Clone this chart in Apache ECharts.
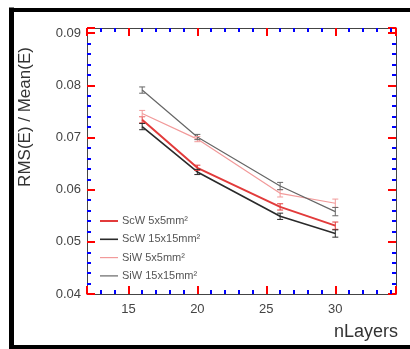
<!DOCTYPE html>
<html><head><meta charset="utf-8">
<script src="https://cdn.jsdelivr.net/npm/echarts@6/dist/echarts.min.js"></script>
<style>html,body{margin:0;padding:0;background:#fff;overflow:hidden}#c{width:410px;height:349px}</style>
</head><body><div id="c"></div>
<script>
const nLayers = [16, 20, 26, 30];
const seriesNames = ['ScW 5x5mm²', 'ScW 15x15mm²', 'SiW 5x5mm²', 'SiW 15x15mm²'];
const scw5 = [0.0734, 0.0642, 0.0567, 0.0531];
const scw15 = [0.0721, 0.0634, 0.0549, 0.0516];
const siw5 = [0.0746, 0.0697, 0.0593, 0.0574];
const siw15 = [0.0791, 0.0701, 0.0607, 0.0558];
const scw5Err = [0.0006, 0.0005, 0.0006, 0.0007];
const scw15Err = [0.0006, 0.0005, 0.0006, 0.0007];
const siw5Err = [0.0006, 0.0005, 0.0007, 0.0008];
const siw15Err = [0.0006, 0.0005, 0.0007, 0.0008];
const xTicks = [15, 20, 25, 30];
const yTicks = [0.04, 0.05, 0.06, 0.07, 0.08, 0.09];

const colors = ['#e23b3b', '#2a2a2a', '#f29a9a', '#666666'];
const widths = [2, 1.6, 1.2, 1.2];
const values = [scw5, scw15, siw5, siw15];
const errs = [scw5Err, scw15Err, siw5Err, siw15Err];

const chart = echarts.init(document.getElementById('c'), null, {renderer: 'canvas'});
function axisCommon() {
  return {
    axisLine: {show: true, onZero: false, lineStyle: {color: '#444', width: 1}},
    axisTick: {show: true, inside: true, length: 8, lineStyle: {color: '#ff0000', width: 2}},
    minorTick: {show: true, splitNumber: 5, length: 4, lineStyle: {color: '#0000ff', width: 2}},
    splitLine: {show: false}, minorSplitLine: {show: false}
  };
}
const series = [];
values.forEach((vals, i) => {
  series.push({
    name: seriesNames[i], type: 'line', xAxisIndex: 0, yAxisIndex: 0,
    data: nLayers.map((x, k) => [x, vals[k]]),
    symbol: 'none', lineStyle: {color: colors[i], width: widths[i]},
    itemStyle: {color: colors[i]}, z: 3
  });
  const errData = [];
  nLayers.forEach((x, k) => {
    errData.push([x, vals[k] - errs[i][k]]);
    errData.push([x, vals[k] + errs[i][k]]);
    errData.push([x, '-']);
  });
  series.push({
    name: seriesNames[i] + ' err', type: 'line', xAxisIndex: 0, yAxisIndex: 0,
    data: errData, connectNulls: false,
    symbol: 'rect', symbolSize: [6, 1], showSymbol: true, showAllSymbol: true,
    lineStyle: {color: colors[i], width: 1}, itemStyle: {color: colors[i]}, z: 4
  });
});

const legendItems = [];
seriesNames.forEach((n, i) => {
  const y = 221 + i * 18.3;
  legendItems.push({type: 'line', shape: {x1: 100, y1: y, x2: 118, y2: y}, style: {stroke: colors[i], lineWidth: widths[i]}});
  legendItems.push({type: 'text', x: 122, y: y, style: {text: n, fontSize: 11, fill: '#555', fontFamily: 'Liberation Sans', align: 'left', verticalAlign: 'middle'}});
});

chart.setOption({
  animation: false,
  grid: {left: 87, top: 28, right: 14, bottom: 55},
  xAxis: [
    Object.assign({type: 'value', position: 'bottom', min: 12, max: 34.4, splitNumber: 5,
      axisLabel: {show: true, showMinLabel: false, showMaxLabel: false, color: '#444', fontSize: 13, fontFamily: 'Liberation Sans', margin: 9,
        formatter: v => xTicks.includes(v) ? String(v) : ''}}, axisCommon()),
    Object.assign({type: 'value', position: 'top', min: 12, max: 34.4, splitNumber: 5, axisLabel: {show: false}}, axisCommon())
  ],
  yAxis: [
    Object.assign({type: 'value', position: 'left', min: 0.04, max: 0.091, interval: 0.01,
      axisLabel: {show: true, showMaxLabel: false, color: '#444', fontSize: 13, fontFamily: 'Liberation Sans', margin: 6,
        formatter: v => yTicks.some(t => Math.abs(t - v) < 1e-9) ? v.toFixed(2) : ''}}, axisCommon()),
    Object.assign({type: 'value', position: 'right', min: 0.04, max: 0.091, interval: 0.01, axisLabel: {show: false}}, axisCommon())
  ],
  series: series,
  graphic: legendItems.concat([
    {type: 'line', shape: {x1: 11.5, y1: 7.5, x2: 11.5, y2: 349}, style: {stroke: '#000', lineWidth: 5}, z: 10},
    {type: 'line', shape: {x1: 9, y1: 10, x2: 410, y2: 10}, style: {stroke: '#000', lineWidth: 4}, z: 10},
    {type: 'line', shape: {x1: 9, y1: 347, x2: 410, y2: 347}, style: {stroke: '#000', lineWidth: 4}, z: 10},
    {type: 'text', x: 25, y: 117, rotation: Math.PI / 2,
      style: {text: 'RMS(E) / Mean(E)', fontSize: 17, fill: '#333', fontFamily: 'Liberation Sans', align: 'center', verticalAlign: 'middle'}},
    {type: 'text', x: 398, y: 332,
      style: {text: 'nLayers', fontSize: 18, fill: '#333', fontFamily: 'Liberation Sans', align: 'right', verticalAlign: 'middle'}}
  ])
});
</script></body></html>
